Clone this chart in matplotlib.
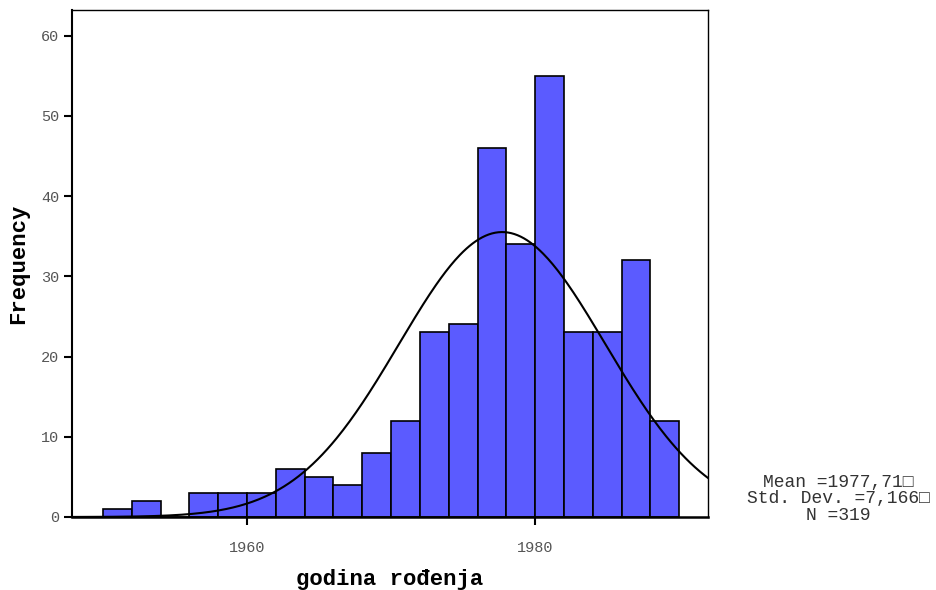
import numpy as np
import matplotlib
matplotlib.use("Agg")
from matplotlib import pyplot as plt

# histogram data (2-year bins)
bin_edges = [1950, 1952, 1954, 1956, 1958, 1960, 1962, 1964, 1966, 1968, 1970,
             1972, 1974, 1976, 1978, 1980, 1982, 1984, 1986, 1988, 1990]
counts = [1, 2, 0, 3, 3, 3, 6, 5, 4, 8, 12, 23, 24, 46, 34, 55, 23, 23, 32, 12]
mean = 1977.71
std = 7.166
n = 319

mono = ['Liberation Mono', 'DejaVu Sans Mono']

fig = plt.figure(figsize=(9.37, 5.9), dpi=100)
ax = fig.add_axes([72 / 937, 73 / 590, 636 / 937, 507 / 590])

lefts = bin_edges[:-1]
widths = np.diff(bin_edges)
ax.bar(lefts, counts, width=widths, align='edge', color='#5b5bff',
       edgecolor='black', linewidth=1.2, zorder=2)

# normal curve scaled to counts
xs = np.linspace(1947.8, 1992.1, 400)
bw = bin_edges[1] - bin_edges[0]
ys = n * bw / (std * np.sqrt(2 * np.pi)) * np.exp(-0.5 * ((xs - mean) / std) ** 2)
ax.plot(xs, ys, color='black', linewidth=1.5, zorder=3)

ax.set_xlim(1947.85, 1992.0)
ax.set_ylim(0, 63.2)
ax.set_xticks([1960, 1980])
ax.set_yticks([0, 10, 20, 30, 40, 50, 60])
ax.tick_params(direction='out', length=6, width=1.5, colors='black',
               labelcolor='#555555', labelsize=11)
for lbl in ax.get_xticklabels() + ax.get_yticklabels():
    lbl.set_family(mono)
ax.tick_params(axis='x', pad=11)
ax.tick_params(axis='y', pad=3)
for s in ax.spines.values():
    s.set_linewidth(1.0)
ax.spines['bottom'].set_linewidth(1.8)
ax.spines['left'].set_linewidth(1.5)

ax.set_xlabel('godina rođenja', family=mono, fontweight='bold', fontsize=16, labelpad=10)
ax.set_ylabel('Frequency', family=mono, fontweight='bold', fontsize=16, labelpad=9)

fig.text(838 / 937, 1 - 499 / 590,
         'Mean =1977,71\u25a1\nStd. Dev. =7,166\u25a1\nN =319',
         family=mono, fontsize=13, color='#333333', ha='center', va='center',
         linespacing=0.95)

fig.savefig('out.png', dpi=100)
